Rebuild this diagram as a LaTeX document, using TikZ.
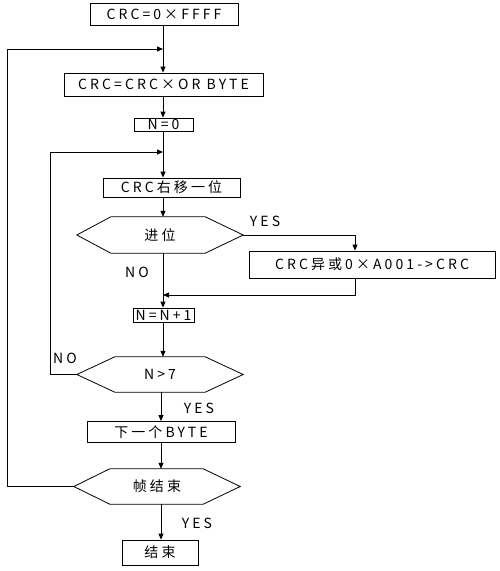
\documentclass[tikz,border=0pt]{standalone}
\usepackage{fontspec}
\setmainfont{Noto Sans CJK SC}[LetterSpace=22]
\usetikzlibrary{arrows.meta}
\begin{document}
\begin{tikzpicture}[x=1pt,y=-1pt,
  every node/.style={font=\fontsize{14}{15}\selectfont, inner sep=0pt},
  box/.style={draw, line width=0.8pt, rectangle},
  hexnode/.style={rectangle, minimum width=166pt, minimum height=36pt},
  hexline/.style={line width=0.8pt},
  conn/.style={line width=0.8pt},
  arr/.style={line width=0.8pt, -{Triangle[length=6pt,width=5pt]}},
  lbl/.style={}]
\useasboundingbox (0,0) rectangle (500,571);
\fill[white] (0,0) rectangle (500,571);
% line positions
\coordinate (m) at (163,0);
\coordinate (n) at (161,0);
\coordinate (outer) at (7,49);
\coordinate (inner) at (50,152);
\coordinate (right) at (355,235);
\coordinate (join) at (355,295);
% boxes
\node[box, minimum width=148pt, minimum height=22pt] (b1) at (164,14) {CRC=0×FFFF};
\node[box, minimum width=199pt, minimum height=23pt] (b2) at (163.5,84.5) {CRC=CRC×OR BYTE};
\node[box, minimum width=59pt, minimum height=13pt] (b3) at (163.5,124.5) {N=0};
\node[box, minimum width=137pt, minimum height=19pt] (b4) at (171.5,187.5) {CRC右移一位};
\node[hexnode] (d1) at (160,235) {进位};
\node[box, minimum width=246pt, minimum height=27pt] (b5) at (372,264.5) {CRC异或0×A001->CRC};
\node[box, minimum width=61pt, minimum height=14pt] (b6) at (163.5,315) {N=N+1};
\node[hexnode, minimum height=35pt] (d2) at (160,374.5) {N>7};
\node[box, minimum width=148pt, minimum height=21pt] (b7) at (161,432) {下一个BYTE};
\node[hexnode, minimum height=35pt] (d3) at (157,486.5) {帧结束};
\node[box, minimum width=76pt, minimum height=25pt] (b8) at (160,552.5) {结束};
% hexagons
\draw[hexline] (d1.west) -- ([xshift=34pt]d1.north west) -- ([xshift=-38pt]d1.north east) -- (d1.east) -- ([xshift=-38pt]d1.south east) -- ([xshift=34pt]d1.south west) -- cycle;
\draw[hexline] (d2.west) -- ([xshift=38pt]d2.north west) -- ([xshift=-38pt]d2.north east) -- (d2.east) -- ([xshift=-38pt]d2.south east) -- ([xshift=38pt]d2.south west) -- cycle;
\draw[hexline] (d3.west) -- ([xshift=36pt]d3.north west) -- ([xshift=-37pt]d3.north east) -- (d3.east) -- ([xshift=-37pt]d3.south east) -- ([xshift=36pt]d3.south west) -- cycle;
% labels
\node[lbl] (yes1) at (265,221) {YES};
\node[lbl] (no1) at (137,272) {NO};
\node[lbl] (no2) at (65,358) {NO};
\node[lbl] (yes2) at (199,408) {YES};
\node[lbl] (yes3) at (197,523) {YES};
% connectors
\draw[arr] (b1.south -| m) -- (b2.north -| m);
\draw[arr] (b2.south -| m) -- (b3.north -| m);
\draw[conn] (b3.south -| m) -- (inner -| m);
\draw[arr] (inner -| m) -- (b4.north -| m);
\draw[arr] (b4.south -| m) -- (d1.north -| m);
\draw[arr] (d1.south -| m) -- (b6.north -| m);
\draw[arr] (d1.east) -- (right) -- (b5.north -| right);
\draw[arr] (b5.south -| right) -- (join) -- (join -| m);
\draw[arr] (b6.south -| m) -- (d2.north -| m);
\draw[arr] (d2.south -| n) -- (b7.north -| n);
\draw[arr] (b7.south -| n) -- (d3.north -| n);
\draw[arr] (d3.south -| n) -- (b8.north -| n);
\draw[arr] (d2.west) -- (d2.west -| inner) -- (inner) -- (inner -| m);
\draw[arr] (d3.west) -- (d3.west -| outer) -- (outer) -- (outer -| m);
\end{tikzpicture}
\end{document}
